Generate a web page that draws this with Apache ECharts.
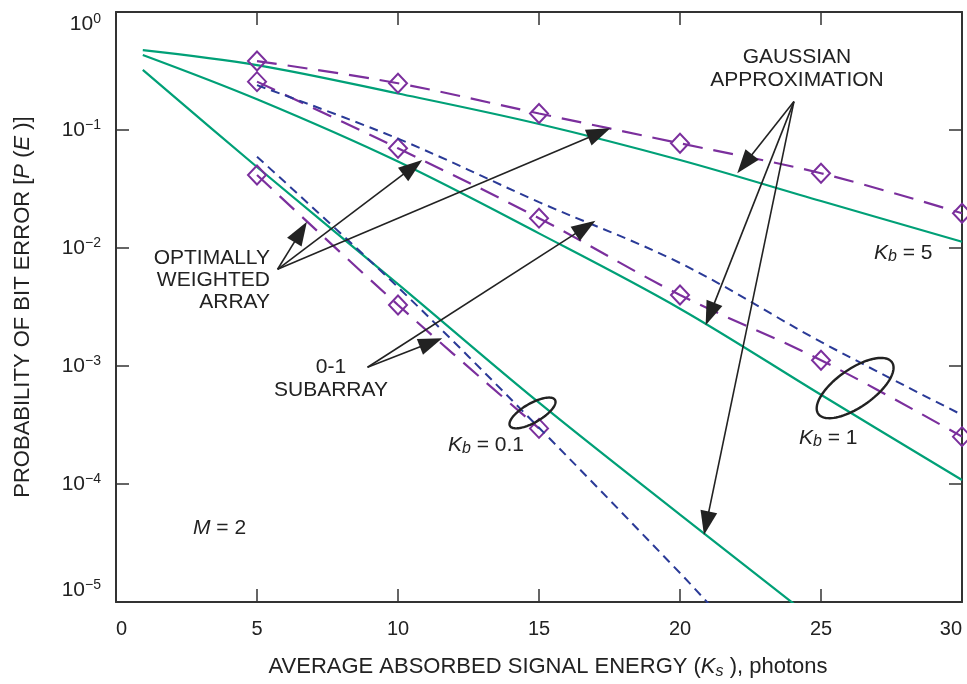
<!DOCTYPE html>
<html>
<head>
<meta charset="utf-8">
<script src="https://cdn.jsdelivr.net/npm/echarts@6/dist/echarts.min.js"></script>
<style>
  html, body { margin: 0; padding: 0; background: #ffffff; }
  #chart { width: 967px; height: 684px; }
</style>
</head>
<body>
<div id="chart"></div>
<script>
// Bit-error probability vs. absorbed signal energy, M = 2, three background levels K_b.
const FONT = "'Liberation Sans', Arial, Helvetica, sans-serif";
const GREEN = '#00a077';
const PURPLE = '#7b2f9d';
const BLUE = '#2a3a97';
const INK = '#222222';

const xMin = 0, xMax = 30, xStep = 5;
const yMin = 1e-5, yMax = 1;

// Gaussian approximation (solid curves): [Ks, P(E)]
const gaussKb5  = [[0.95, 0.476], [5, 0.355], [10, 0.204], [15, 0.1125], [20, 0.0557], [25, 0.025], [30, 0.0113]];
const gaussKb1  = [[0.95, 0.432], [5, 0.182], [10, 0.054], [15, 0.0133], [20, 0.00306], [25, 0.00057], [30, 0.000108]];
const gaussKb01 = [[0.95, 0.323], [5, 0.0486], [10, 0.00495], [15, 0.000489], [20, 0.000055], [24.05, 0.0000096]];

// Optimally weighted array (long dashes, diamonds)
const optKb5  = [[5, 0.384], [10, 0.249], [15, 0.138], [20, 0.0771], [25, 0.043], [30, 0.0197]];
const optKb1  = [[5, 0.257], [10, 0.070], [15, 0.0179], [20, 0.0040], [25, 0.00112], [30, 0.000252]];
const optKb01 = [[5, 0.0416], [10, 0.00329], [15, 0.000296]];

// 0-1 subarray (short dashes)
const subKb1  = [[5, 0.24], [10, 0.0844], [15, 0.0245], [20, 0.00746], [25, 0.0016], [30, 0.000385]];
const subKb01 = [[5, 0.0594], [10, 0.00465], [15, 0.0003], [20, 0.0000176], [21.25, 0.0000084]];

function gaussSeries(data) {
  return {
    type: 'line', data: data, symbol: 'none', smooth: 0.35, clip: true, silent: true, z: 2,
    lineStyle: { color: GREEN, width: 2.2 }
  };
}
function optSeries(data) {
  return {
    type: 'line', data: data, symbol: 'diamond', symbolSize: [18, 19], showSymbol: true,
    smooth: 0.35, clip: true, silent: true, z: 3,
    itemStyle: { color: 'rgba(0,0,0,0)', borderColor: PURPLE, borderWidth: 2 },
    lineStyle: { color: PURPLE, width: 2.2, type: [20, 11] }
  };
}
function subSeries(data) {
  return {
    type: 'line', data: data, symbol: 'none', smooth: 0.35, clip: true, silent: true, z: 4,
    lineStyle: { color: BLUE, width: 2, type: [9, 6] }
  };
}

function powerLabel(v) {
  const e = Math.round(Math.log10(v));
  const s = e < 0 ? '\u2212' + (-e) : String(e);
  return '{b|10}{s|' + s + '}';
}

const chart = echarts.init(document.getElementById('chart'), null, { renderer: 'canvas' });

const frameLine = { show: true, onZero: false, lineStyle: { color: '#333', width: 2 } };
const innerTick = { show: true, inside: true, length: 13, lineStyle: { color: '#333', width: 1.5 } };

chart.setOption({
  animation: false,
  backgroundColor: '#ffffff',
  textStyle: { fontFamily: FONT },
  grid: { left: 116, right: 5, top: 12, bottom: 82, containLabel: false, outerBoundsMode: 'none' },
  xAxis: [
    {
      type: 'value', min: xMin, max: xMax, interval: xStep, position: 'bottom',
      axisLine: frameLine, axisTick: innerTick, splitLine: { show: false },
      axisLabel: {
        fontSize: 20, color: INK, fontFamily: FONT, margin: 17,
        alignMinLabel: 'left', alignMaxLabel: 'right'
      },
      name: '{n|AVERAGE ABSORBED SIGNAL ENERGY (}{i|K}{sub|s}{n| ), photons}',
      nameLocation: 'middle', nameGap: 52,
      nameTextStyle: {
        padding: [0, 0, 0, 18],
        rich: {
          n: { fontSize: 22, color: INK, fontFamily: FONT, lineHeight: 26 },
          i: { fontSize: 22, color: INK, fontFamily: FONT, fontStyle: 'italic', lineHeight: 26 },
          sub: { fontSize: 16, color: INK, fontFamily: FONT, fontStyle: 'italic', verticalAlign: 'bottom', lineHeight: 15 }
        }
      }
    },
    {
      type: 'value', min: xMin, max: xMax, interval: xStep, position: 'top',
      axisLine: frameLine, axisTick: innerTick, axisLabel: { show: false }, splitLine: { show: false }
    }
  ],
  yAxis: [
    {
      type: 'log', logBase: 10, min: yMin, max: yMax, position: 'left',
      axisLine: frameLine, axisTick: innerTick, splitLine: { show: false }, minorTick: { show: false },
      axisLabel: {
        margin: 15, formatter: powerLabel,
        verticalAlignMinLabel: 'bottom', verticalAlignMaxLabel: 'top',
        rich: {
          b: { fontSize: 21, color: INK, fontFamily: FONT, lineHeight: 24 },
          s: { fontSize: 14, color: INK, fontFamily: FONT, verticalAlign: 'top', lineHeight: 12 }
        }
      },
      name: '{n|PROBABILITY OF BIT ERROR [}{i|P}{n| (}{i|E}{n| )]}',
      nameLocation: 'middle', nameGap: 80,
      nameTextStyle: {
        rich: {
          n: { fontSize: 22, color: INK, fontFamily: FONT, lineHeight: 26 },
          i: { fontSize: 22, color: INK, fontFamily: FONT, fontStyle: 'italic', lineHeight: 26 }
        }
      }
    },
    {
      type: 'log', logBase: 10, min: yMin, max: yMax, position: 'right',
      axisLine: frameLine, axisTick: innerTick, axisLabel: { show: false }, splitLine: { show: false }
    }
  ],
  series: [
    gaussSeries(gaussKb5), gaussSeries(gaussKb1), gaussSeries(gaussKb01),
    optSeries(optKb5), optSeries(optKb1), optSeries(optKb01),
    subSeries(subKb1), subSeries(subKb01)
  ]
});

// ---- annotations: leader arrows, grouping ellipses and labels ----
function px(p) { return chart.convertToPixel({ gridIndex: 0 }, p); }

function arrow(tail, tip) {
  const a = px(tail), b = px(tip);
  const dx = b[0] - a[0], dy = b[1] - a[1];
  const L = Math.hypot(dx, dy), ux = dx / L, uy = dy / L;
  const hl = 24, hw = 8.5;
  const bx = b[0] - ux * hl, by = b[1] - uy * hl;
  return [
    { type: 'line', silent: true, z: 10,
      shape: { x1: a[0], y1: a[1], x2: bx + ux * 3, y2: by + uy * 3 },
      style: { stroke: INK, lineWidth: 1.6 } },
    { type: 'polygon', silent: true, z: 10,
      shape: { points: [[b[0], b[1]], [bx - uy * hw, by + ux * hw], [bx + uy * hw, by - ux * hw]] },
      style: { fill: INK } }
  ];
}

function ellipse(center, a, b, deg) {
  const c = px(center);
  const t = -deg * Math.PI / 180;
  const pts = [];
  for (let i = 0; i < 90; i++) {
    const ang = 2 * Math.PI * i / 90;
    const ex = a * Math.cos(ang), ey = b * Math.sin(ang);
    pts.push([c[0] + ex * Math.cos(t) - ey * Math.sin(t), c[1] + ex * Math.sin(t) + ey * Math.cos(t)]);
  }
  return { type: 'polygon', silent: true, z: 10, shape: { points: pts },
           style: { fill: 'none', stroke: INK, lineWidth: 2.4 } };
}

const plainRich = {
  n: { fontSize: 21, fill: INK, fontFamily: FONT, lineHeight: 24 },
  i: { fontSize: 21, fill: INK, fontFamily: FONT, fontStyle: 'italic', lineHeight: 24 },
  sub: { fontSize: 16, fill: INK, fontFamily: FONT, fontStyle: 'italic', verticalAlign: 'bottom', lineHeight: 14 }
};

function label(text, x, y, align, lineHeight) {
  return {
    type: 'text', silent: true, z: 11,
    style: {
      text: text, x: x, y: y, textAlign: align, textVerticalAlign: 'middle',
      fill: INK, font: '21px ' + FONT, lineHeight: lineHeight || 22
    }
  };
}
function richLabel(text, x, y) {
  return {
    type: 'text', silent: true, z: 11,
    style: { text: text, x: x, y: y, textAlign: 'left', textVerticalAlign: 'middle', fill: INK, rich: plainRich }
  };
}

const optTail = [5.73, 0.0066];
const subTail = [8.92, 0.000975];
const gaussTail = [24.04, 0.174];

const graphics = [].concat(
  arrow(optTail, [6.77, 0.0167]),
  arrow(optTail, [10.86, 0.0557]),
  arrow(optTail, [17.53, 0.1033]),
  arrow(subTail, [11.57, 0.00172]),
  arrow(subTail, [17.0, 0.0170]),
  arrow(gaussTail, [22.03, 0.043]),
  arrow(gaussTail, [20.91, 0.00222]),
  arrow(gaussTail, [20.85, 0.000037]),
  [
    ellipse([14.77, 0.0004], 26, 9.5, 30),
    ellipse([26.21, 0.00065], 45, 19, 35),
    label('OPTIMALLY\nWEIGHTED\nARRAY', 270, 280, 'right', 22),
    label('GAUSSIAN\nAPPROXIMATION', 797, 68.5, 'center', 23),
    label('0-1\nSUBARRAY', 331, 378.5, 'center', 23),
    richLabel('{i|K}{sub|b}{n| = 5}', 874, 253),
    richLabel('{i|K}{sub|b}{n| = 0.1}', 448, 445),
    richLabel('{i|K}{sub|b}{n| = 1}', 799, 438),
    richLabel('{i|M}{n| = 2}', 193, 528)
  ]
);

chart.setOption({ graphic: graphics });
</script>
</body>
</html>
